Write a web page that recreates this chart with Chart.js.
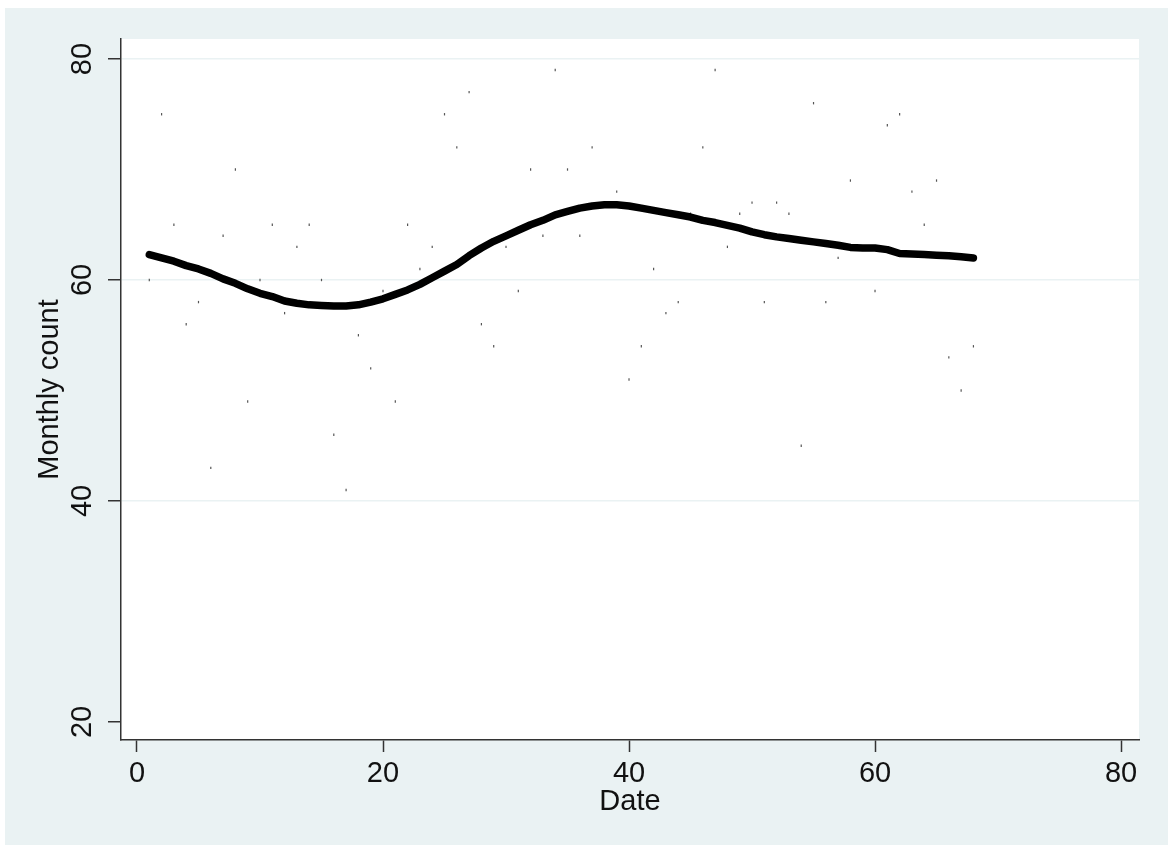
<!DOCTYPE html>
<html>
<head>
<meta charset="utf-8">
<script src="https://cdn.jsdelivr.net/npm/chart.js@4.4.0/dist/chart.umd.min.js"></script>
<style>
  body { margin: 0; background: #ffffff; }
  #wrap { width: 1168px; height: 846px; }
</style>
</head>
<body>
<div id="wrap"><canvas id="lowess-chart" width="1168" height="846"></canvas></div>
<script>
// monthly counts by date index
var dates = [1,2,3,4,5,6,7,8,9,10,11,12,13,14,15,16,17,18,19,20,21,22,23,24,25,26,27,28,29,30,31,32,33,34,
             35,36,37,38,39,40,41,42,43,44,45,46,47,48,49,50,51,52,53,54,55,56,57,58,59,60,61,62,63,64,65,66,67,68];
var counts = [60,75,65,56,58,43,64,70,49,60,65,57,63,65,60,46,41,55,52,59,49,65,61,63,75,72,77,56,54,63,59,70,64,79,
              70,64,72,67,68,51,54,61,57,58,66,72,79,63,66,67,58,67,66,45,76,58,62,69,63,59,74,75,68,65,69,53,50,54];
// lowess smooth
var smooth = [62.3,62.0,61.7,61.3,61.0,60.6,60.1,59.7,59.2,58.8,58.5,58.1,57.9,57.75,57.7,57.65,57.65,57.75,58.0,58.3,
              58.7,59.1,59.6,60.2,60.8,61.4,62.2,62.9,63.5,64.0,64.5,65.0,65.4,65.9,66.2,66.5,66.7,66.8,66.8,66.7,
              66.5,66.3,66.1,65.9,65.7,65.4,65.2,64.95,64.7,64.35,64.1,63.9,63.75,63.6,63.45,63.3,63.15,62.95,62.9,62.9,
              62.75,62.4,62.35,62.3,62.25,62.2,62.1,62.0];
var xTicks = [0, 20, 40, 60, 80];
var yTicks = [20, 40, 60, 80];

var BG = '#EAF2F3';
var INK = '#111111';
var FONT = '29px "Liberation Sans", Arial, sans-serif';

function pts(xs, ys) {
  return xs.map(function (x, i) { return { x: x, y: ys[i] }; });
}

var stataLook = {
  id: 'stataLook',
  beforeDraw: function (chart) {
    var c = chart.ctx, a = chart.chartArea;
    c.save();
    c.fillStyle = '#ffffff';
    c.fillRect(0, 0, chart.width, chart.height);
    c.fillStyle = BG;
    c.fillRect(5, 8, chart.width - 5, chart.height - 9);
    c.fillStyle = '#ffffff';
    c.fillRect(a.left, a.top, a.right - a.left, a.bottom - a.top);
    c.restore();
  },
  afterDraw: function (chart) {
    var c = chart.ctx, a = chart.chartArea;
    var xs = chart.scales.x, ys = chart.scales.y;
    c.save();
    c.fillStyle = INK;
    c.font = FONT;
    c.textAlign = 'center';
    c.textBaseline = 'middle';
    xTicks.forEach(function (v) {
      c.fillText(String(v), xs.getPixelForValue(v), 774);
    });
    c.fillText('Date', (a.left + a.right) / 2, 802);
    yTicks.forEach(function (v) {
      c.save();
      c.translate(83, ys.getPixelForValue(v));
      c.rotate(-Math.PI / 2);
      c.fillText(String(v), 0, 0);
      c.restore();
    });
    c.save();
    c.translate(50, (a.top + a.bottom) / 2);
    c.rotate(-Math.PI / 2);
    c.fillText('Monthly count', 0, 0);
    c.restore();
    c.restore();
  }
};

new Chart(document.getElementById('lowess-chart'), {
  type: 'scatter',
  data: {
    datasets: [
      {
        type: 'line',
        label: 'lowess',
        data: pts(dates, smooth),
        borderColor: '#000000',
        borderWidth: 7.5,
        borderCapStyle: 'round',
        borderJoinStyle: 'round',
        pointRadius: 0,
        tension: 0,
        fill: false
      },
      {
        label: 'Monthly count',
        data: pts(dates, counts),
        pointStyle: 'line',
        rotation: 90,
        pointRadius: 1.2,
        borderWidth: 1.2,
        borderColor: '#555555',
        backgroundColor: '#555555'
      }
    ]
  },
  options: {
    responsive: false,
    animation: false,
    layout: { padding: { left: 0, top: 39, right: 29, bottom: 0 } },
    plugins: {
      legend: { display: false },
      tooltip: { enabled: false }
    },
    scales: {
      x: {
        type: 'linear',
        min: -1.3,
        max: 81.46,
        afterBuildTicks: function (s) { s.ticks = xTicks.map(function (v) { return { value: v }; }); },
        afterFit: function (s) { s.height = 106; },
        ticks: { display: false },
        grid: {
          drawOnChartArea: false,
          drawTicks: true,
          tickLength: 12,
          tickWidth: 1.5,
          tickColor: '#333333'
        },
        border: { display: true, color: '#333333', width: 1.5 }
      },
      y: {
        type: 'linear',
        min: 18.37,
        max: 81.81,
        afterBuildTicks: function (s) { s.ticks = yTicks.map(function (v) { return { value: v }; }); },
        afterFit: function (s) { s.width = 121; },
        ticks: { display: false },
        grid: {
          drawOnChartArea: true,
          drawTicks: true,
          tickLength: 13,
          tickWidth: 1.5,
          tickColor: '#333333',
          lineWidth: 1.5,
          color: function (ctx) {
            return ctx.tick && ctx.tick.value === 20 ? 'rgba(0,0,0,0)' : BG;
          }
        },
        border: { display: true, color: '#333333', width: 1.5 }
      }
    }
  },
  plugins: [stataLook]
});
</script>
</body>
</html>
